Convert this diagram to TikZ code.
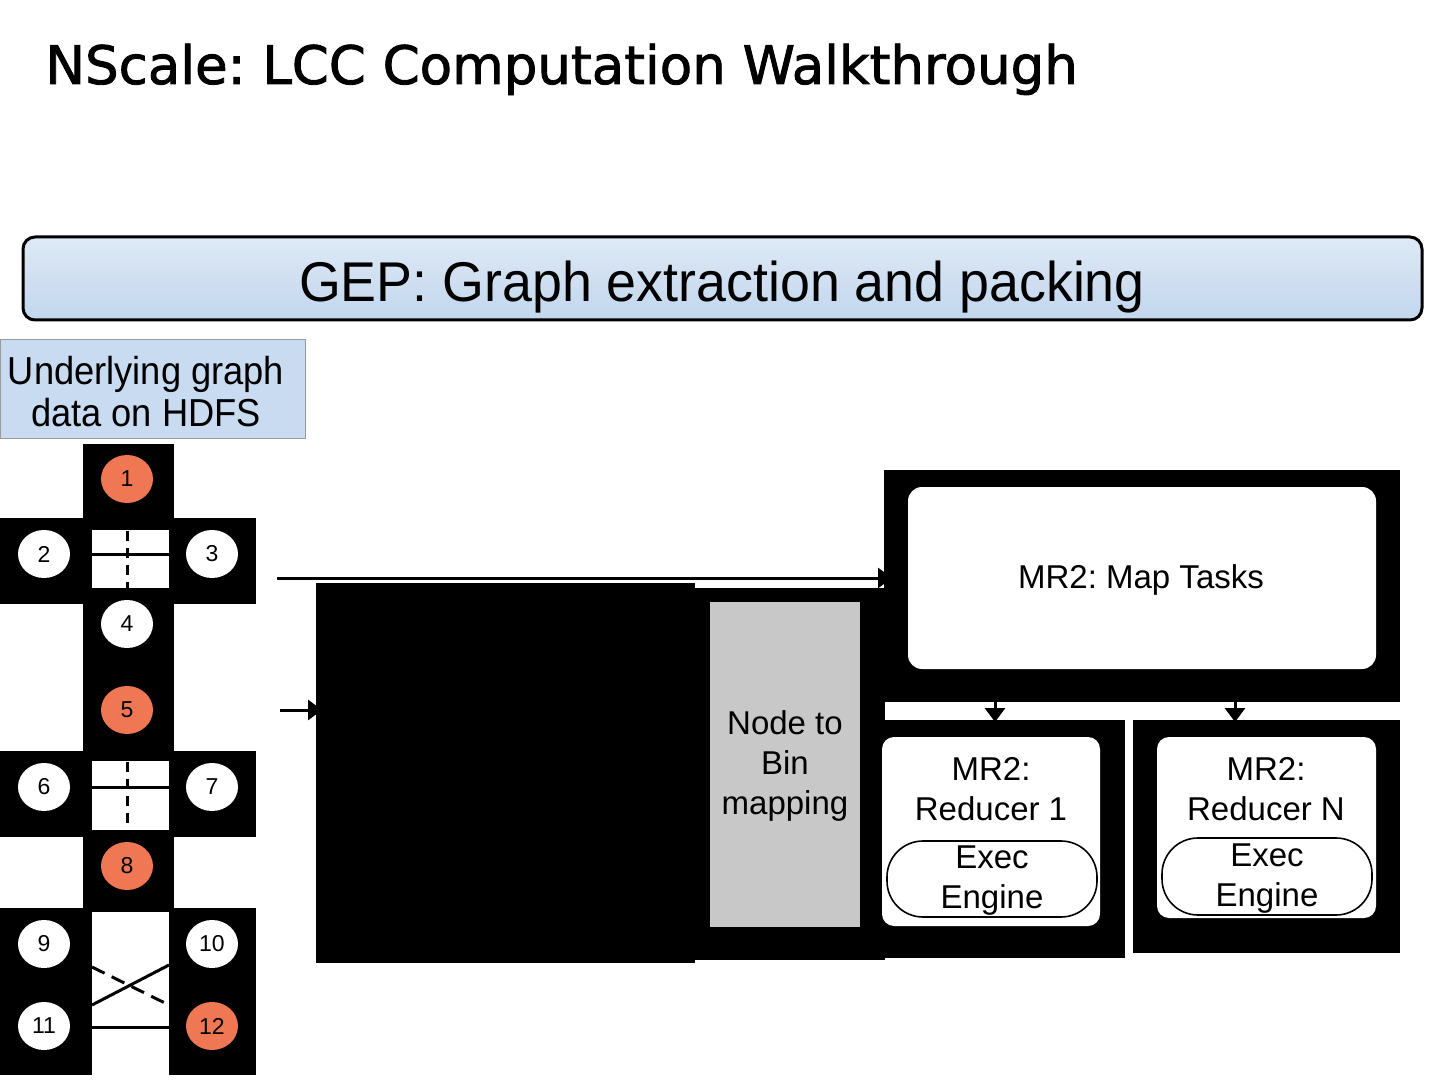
\documentclass[tikz,border=0pt]{standalone}
\usepackage{fontspec}
\setmainfont{Liberation Sans}
\newfontfamily\titlefont[FakeBold=1.6]{DejaVu Sans}
\newfontfamily\gepfont[FakeStretch=0.96]{Liberation Sans}
\newfontfamily\hdfsfont[FakeStretch=0.93]{Liberation Sans}
\usetikzlibrary{fit,arrows.meta,shapes.geometric}
\definecolor{orangenode}{RGB}{239,119,84}
\definecolor{gepTop}{RGB}{222,233,245}
\definecolor{gepBot}{RGB}{194,214,237}
\definecolor{hdfsblue}{RGB}{200,219,240}
\definecolor{bingray}{RGB}{200,200,200}
\frenchspacing
\begin{document}
\frenchspacing
\begin{tikzpicture}[x=0.5pt,y=-0.5pt,
  blk/.style={fill=black, inner sep=0pt, outer sep=0pt},
  wrect/.style={fill=white, inner sep=0pt, outer sep=0pt},
  wbox/.style={fill=white, inner sep=0pt, outer sep=0pt, rounded corners=7pt},
  pill/.style={fill=white, draw=black, line width=0.8pt, inner sep=0pt, outer sep=0pt, rounded corners=18pt},
  gnode/.style={ellipse, inner sep=0pt, minimum width=26pt, minimum height=24pt, font=\fontsize{11.5}{13}\selectfont},
  gl/.style={line width=1.5pt},
  arr/.style={line width=1.5pt, -{Triangle[length=7pt,width=10pt]}},
  txt/.style={align=center, font=\fontsize{16.5}{20}\selectfont}]
\useasboundingbox (0,0) rectangle (1440,1080);
\fill[white] (0,0) rectangle (1440,1080);

% title
\node[anchor=base west, inner sep=0pt, font=\titlefont\fontsize{26.5}{30}\selectfont] (title) at (45,84) {NScale: LCC Computation Walkthrough};

% GEP banner
\node[fit={(23,237) (1422,320)}, inner sep=0pt, rounded corners=6pt, draw=black, line width=1.5pt, top color=gepTop, bottom color=gepBot] (gep) {};
\node[inner sep=0pt, font=\gepfont\fontsize{28}{32}\selectfont] (geptext) at (722,287) {GEP: Graph extraction and packing};

% HDFS label
\node[fit={(0,339) (305,438)}, inner sep=0pt, fill=hdfsblue, draw=black!40, line width=0.4pt] (hdfs) {};
\node[align=center, inner sep=0pt, font=\hdfsfont\fontsize{19.5}{21}\selectfont] (hdfstext) at (146,392) {Underlying graph\\ data on HDFS};

% graph black shapes
\node[blk, fit={(83,444) (174,912)}] (vbar) {};
\node[blk, fit={(0,518) (256,604)}] (band1) {};
\node[blk, fit={(0,751) (256,837)}] (band2) {};
\node[blk, fit={(0,908) (92,1075)}] (botL) {};
\node[blk, fit={(169,908) (256,1075)}] (botR) {};
\node[wrect, fit={(92,530) (169,588)}] (hole1) {};
\node[wrect, fit={(92,761) (169,830)}] (hole2) {};
\node[wrect, fit={(92,917) (169,1080)}] (hole3) {};

% edges inside graph
\draw[gl] (92,554) -- (169,554);
\draw[gl, dash pattern=on 5pt off 3.5pt] (127,531) -- (127,588);
\draw[gl] (92,787) -- (169,787);
\draw[gl, dash pattern=on 5pt off 3.5pt] (127,762) -- (127,830);
\draw[gl, dash pattern=on 7pt off 4pt] (92,967) -- (169,1005);
\draw[gl] (92,1005) -- (169,965);
\draw[gl] (92,1027) -- (169,1027);

% graph nodes
\node[gnode, fill=orangenode] (n1) at (127,479) {1};
\node[gnode, fill=white] (n2) at (44,554) {2};
\node[gnode, fill=white] (n3) at (212,554) {3};
\node[gnode, fill=white] (n4) at (127,624) {4};
\node[gnode, fill=orangenode] (n5) at (127,710) {5};
\node[gnode, fill=white] (n6) at (44,787) {6};
\node[gnode, fill=white] (n7) at (212,787) {7};
\node[gnode, fill=orangenode] (n8) at (127,866) {8};
\node[gnode, fill=white] (n9) at (44,944) {9};
\node[gnode, fill=white] (n10) at (212,944) {10};
\node[gnode, fill=white] (n11) at (44,1026) {11};
\node[gnode, fill=orangenode] (n12) at (212,1026) {12};

% big black blocks
\node[blk, fit={(316,583) (695,963)}] (blockA) {};
\node[blk, fit={(695,588) (885,960)}] (blockB) {};
\node[blk, fit={(884,470) (1400,702)}] (mapblk) {};
\node[blk, fit={(884,720) (1125,958)}] (r1blk) {};
\node[blk, fit={(1133,720) (1400,953)}] (rNblk) {};

% node to bin
\node[fit={(710,602) (860,927)}, inner sep=0pt, fill=bingray] (bin) {};
\node[txt] (bintext) at (785,766) {Node to\\Bin\\mapping};

% map tasks
\node[wbox, fit={(908,487) (1376,669)}] (map) {};
\node[txt] (maptext) at (1141,580) {MR2: Map Tasks};

% reducers
\node[wbox, rounded corners=6pt, fit={(882,737) (1100,926)}] (red1) {};
\node[txt] (red1text) at (991,789) {MR2:\\Reducer 1};
\node[pill, fit={(887,841) (1097,917)}] (exec1) {};
\node[txt] (exec1text) at (992,881) {Exec\\Engine};

\node[wbox, rounded corners=6pt, fit={(1157,737) (1376,918)}] (redN) {};
\node[txt] (redNtext) at (1266,789) {MR2:\\Reducer N};
\node[pill, fit={(1162,838) (1372,915)}] (execN) {};
\node[txt] (execNtext) at (1267,879) {Exec\\Engine};

% connectors
\coordinate (src1) at (277,578);
\coordinate (src2) at (280,710);
\draw[arr] (src1) -- ([xshift=4pt]src1 -| mapblk.west);
\draw[arr] (src2) -- ([xshift=3pt]src2 -| blockA.west);
\coordinate (d1) at (995,702);
\coordinate (d2) at (1235,702);
\draw[arr] (d1) -- ([yshift=-1pt]d1 |- r1blk.north);
\draw[arr] (d2) -- ([yshift=-1pt]d2 |- rNblk.north);
\end{tikzpicture}
\end{document}
